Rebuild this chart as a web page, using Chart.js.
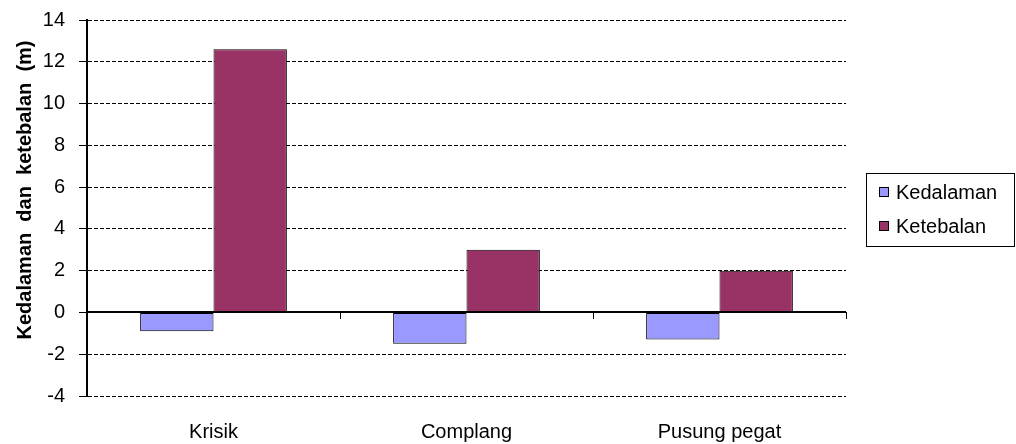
<!DOCTYPE html>
<html>
<head>
<meta charset="utf-8">
<script src="https://cdn.jsdelivr.net/npm/chart.js@4"></script>
<style>
  html, body { margin: 0; padding: 0; background: #fff; }
  #wrap { width: 1016px; height: 444px; }
</style>
</head>
<body>
<div id="wrap"><canvas id="myBarChart" width="1016" height="444"></canvas></div>
<script>
var categories = ['Krisik', 'Complang', 'Pusung pegat'];
var kedalaman = [-0.9, -1.5, -1.3];
var ketebalan = [12.6, 3.0, 2.0];
var yTicks = [-4, -2, 0, 2, 4, 6, 8, 10, 12, 14];
var yTitle = 'Kedalaman  dan  ketebalan  (m)';

var FONT = 'Arial, "Liberation Sans", sans-serif';

// zero line across the plot plus the category tick marks hanging off it
var zeroAxis = {
    id: 'zeroAxis',
    afterDatasetsDraw: function (chart) {
        var ctx = chart.ctx;
        var x = chart.scales.x, y = chart.scales.y;
        var y0 = Math.round(y.getPixelForValue(0));
        ctx.save();
        ctx.strokeStyle = '#000';
        ctx.lineWidth = 2;
        ctx.beginPath();
        ctx.moveTo(chart.chartArea.left, y0);
        ctx.lineTo(chart.chartArea.right, y0);
        ctx.stroke();
        ctx.lineWidth = 1;
        ctx.beginPath();
        for (var i = 1; i <= categories.length; i++) {
            var px = Math.round(i < categories.length ?
                (x.getPixelForValue(i - 1) + x.getPixelForValue(i)) / 2 :
                chart.chartArea.right) + 0.5;
            ctx.moveTo(px, y0);
            ctx.lineTo(px, y0 + 7);
        }
        ctx.stroke();
        ctx.restore();
    }
};

// rotated y axis title, sitting a little above the plot's middle
var axisTitle = {
    id: 'axisTitle',
    afterDraw: function (chart) {
        var ctx = chart.ctx;
        ctx.save();
        ctx.translate(25, 190);
        ctx.rotate(-Math.PI / 2);
        ctx.font = 'bold 20px ' + FONT;
        ctx.fillStyle = '#000';
        ctx.textAlign = 'center';
        ctx.textBaseline = 'middle';
        ctx.fillText(yTitle, 0, 0);
        ctx.restore();
    }
};

// boxed legend to the right of the plot
var boxLegend = {
    id: 'boxLegend',
    afterDraw: function (chart) {
        var ctx = chart.ctx;
        var left = 866, top = 173, w = 148, h = 73;
        ctx.save();
        ctx.strokeStyle = '#000';
        ctx.lineWidth = 1;
        ctx.strokeRect(left + 0.5, top + 0.5, w, h);
        ctx.font = '20px ' + FONT;
        ctx.textBaseline = 'middle';
        chart.data.datasets.forEach(function (ds, i) {
            var cy = top + 19 + i * 34;
            ctx.fillStyle = ds.backgroundColor;
            ctx.fillRect(879, cy - 4, 9, 9);
            ctx.strokeStyle = '#000';
            ctx.strokeRect(879.5, cy - 4.5, 9, 9);
            ctx.fillStyle = '#000';
            ctx.fillText(ds.label, 896, cy + 1);
        });
        ctx.restore();
    }
};

var ctx = document.getElementById('myBarChart').getContext('2d');
var myBarChart = new Chart(ctx, {
    type: 'bar',
    data: {
        labels: categories,
        datasets: [{
            label: 'Kedalaman',
            data: kedalaman,
            backgroundColor: '#9999ff',
            borderColor: '#000',
            borderWidth: 1,
            borderSkipped: false
        }, {
            label: 'Ketebalan',
            data: ketebalan,
            backgroundColor: '#993366',
            borderColor: '#000',
            borderWidth: 1,
            borderSkipped: false
        }]
    },
    options: {
        responsive: false,
        animation: false,
        layout: {
            padding: { left: 0, right: 170, top: 20, bottom: 0 }
        },
        plugins: {
            legend: { display: false },
            tooltip: { enabled: false }
        },
        datasets: {
            bar: { categoryPercentage: 0.58, barPercentage: 1.0 }
        },
        scales: {
            x: {
                grid: { display: false, drawTicks: false },
                border: { display: false },
                ticks: {
                    color: '#000',
                    padding: 24,
                    font: { family: FONT, size: 20 }
                },
                afterFit: function (scale) {
                    scale.height = 48;
                    scale.paddingLeft = 0;
                    scale.paddingRight = 0;
                }
            },
            y: {
                min: -4,
                max: 14,
                afterBuildTicks: function (scale) {
                    scale.ticks = yTicks.map(function (v) { return { value: v }; });
                },
                grid: {
                    color: '#000',
                    lineWidth: 1,
                    tickLength: 8,
                    tickColor: '#000'
                },
                border: { display: true, color: '#000', width: 2, dash: [4, 2] },
                ticks: {
                    color: '#000',
                    padding: 14,
                    font: { family: FONT, size: 20 }
                },
                afterFit: function (scale) {
                    scale.width = 87;
                    scale.paddingTop = 0;
                    scale.paddingBottom = 0;
                }
            }
        }
    },
    plugins: [zeroAxis, axisTitle, boxLegend]
});
</script>
</body>
</html>
